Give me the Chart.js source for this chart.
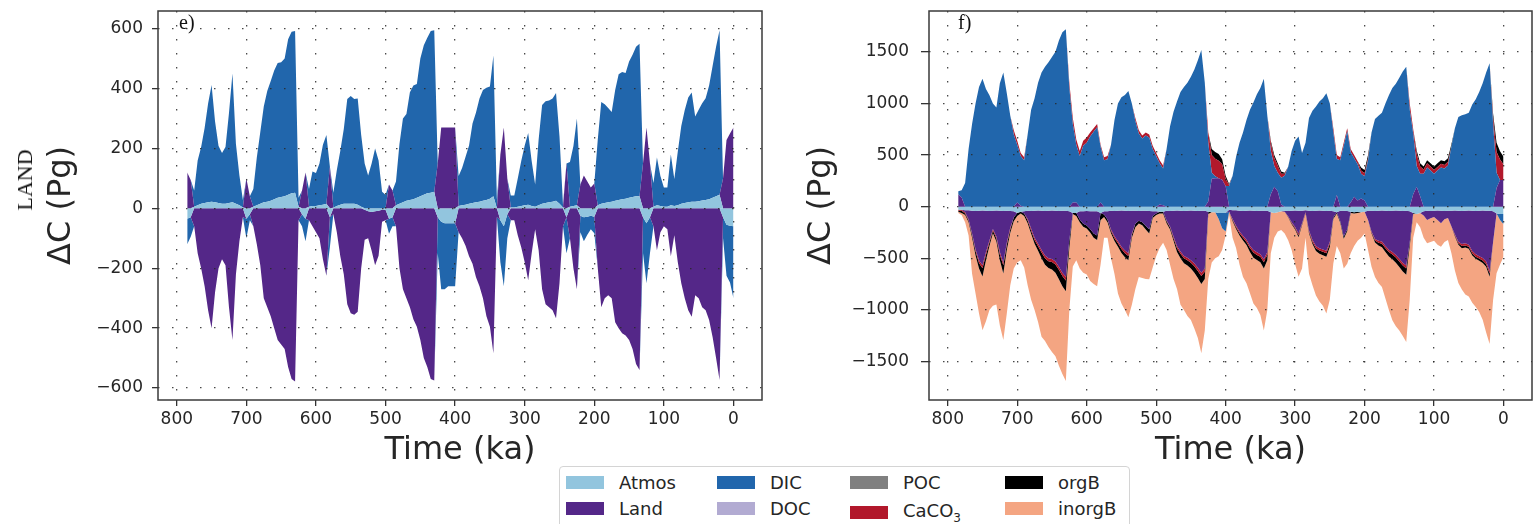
<!DOCTYPE html>
<html>
<head>
<meta charset="utf-8">
<script src="https://cdn.jsdelivr.net/npm/chart.js@4.4.1/dist/chart.umd.min.js"></script>
<style>
  body { margin: 0; background: #fff; }
  #page { position: relative; width: 1535px; height: 524px; overflow: hidden; background: #fff; font-family: 'DejaVu Sans', sans-serif; }
  canvas { position: absolute; top: 0; }
  .tag { position: absolute; top: 12px; font: 20px 'Liberation Serif', 'Times New Roman', serif; line-height: 20px; color: #111; }
  #land { position: absolute; left: 25px; top: 180px; transform: translate(-50%, -50%) rotate(-90deg); font: 22px 'Liberation Serif', 'Times New Roman', serif; color: #111; white-space: nowrap; }
  #legend { position: absolute; left: 559px; top: 466px; width: 571px; height: 80px; border: 1px solid #d4d4d4; border-radius: 4px; background: #fff; box-sizing: border-box; }
  .item { position: absolute; display: flex; align-items: center; height: 20px; font-size: 18px; color: #262626; white-space: nowrap; }
  .swatch { width: 38px; height: 13px; margin-right: 15px; flex: none; }
  .item sub { font-size: 12px; }
</style>
</head>
<body>
<div id="page">
  <canvas id="panelE" width="770" height="470" style="left:0;width:770px;height:470px"></canvas>
  <canvas id="panelF" width="765" height="470" style="left:770px;width:765px;height:470px"></canvas>
  <div class="tag" style="left:179px">e)</div>
  <div class="tag" style="left:958px">f)</div>
  <div id="land">LAND</div>
  <div id="legend"></div>
</div>
<script>
// time axis, ka before present (5 ka steps)
const TIME = [
  785, 780, 775, 770, 765, 760, 755, 750, 745, 740,
  735, 730, 725, 720, 715, 710, 705, 700, 695, 690,
  685, 680, 675, 670, 665, 660, 655, 650, 645, 640,
  635, 630, 625, 620, 615, 610, 605, 600, 595, 590,
  585, 580, 575, 570, 565, 560, 555, 550, 545, 540,
  535, 530, 525, 520, 515, 510, 505, 500, 495, 490,
  485, 480, 475, 470, 465, 460, 455, 450, 445, 440,
  435, 430, 425, 420, 415, 410, 405, 400, 395, 390,
  385, 380, 375, 370, 365, 360, 355, 350, 345, 340,
  335, 330, 325, 320, 315, 310, 305, 300, 295, 290,
  285, 280, 275, 270, 265, 260, 255, 250, 245, 240,
  235, 230, 225, 220, 215, 210, 205, 200, 195, 190,
  185, 180, 175, 170, 165, 160, 155, 150, 145, 140,
  135, 130, 125, 120, 115, 110, 105, 100, 95, 90,
  85, 80, 75, 70, 65, 60, 55, 50, 45, 40,
  35, 30, 25, 20, 15, 10, 5, 0
];

// panel e: LAND run, carbon anomaly per reservoir (Pg C)
const E_ATMOS = [
  -35, -30, 5, 10, 15, 18, 20, 22, 20, 18,
  15, 15, 18, 20, 15, 10, 3, -35, -20, 5,
  10, 15, 20, 22, 25, 30, 35, 38, 40, 45,
  50, 52, 5, -20, -35, 5, 8, 8, 10, 12,
  15, -30, 2, 8, 12, 15, 15, 15, 15, 12,
  5, -5, -10, -12, -10, -8, -5, -5, -35, -30,
  10, 15, 20, 25, 28, 30, 35, 40, 45, 50,
  52, 55, -30, -45, -50, -50, -50, -50, 8, 10,
  12, 15, 18, 20, 22, 25, 28, 32, 40, 0,
  -40, -60, -20, 3, 3, 5, 8, 10, 12, 8,
  5, 10, 15, 18, 20, 22, 25, 15, 3, -30,
  5, 8, 10, -25, -30, -28, -25, -28, 10, 15,
  18, 20, 22, 25, 28, 30, 32, 35, 38, 40,
  40, -30, -50, -30, 5, 10, 8, 5, 5, 10,
  8, 10, 15, 18, 20, 22, 22, 24, 26, 28,
  30, 35, 40, 45, -30, -55, -58, -60
];
const E_LAND = [
  120, 95, -60, -150, -200, -260, -340, -400, -280, -200,
  -170, -190, -330, -440, -220, -110, -30, 100, 40, -60,
  -120, -190, -300, -330, -360, -400, -440, -455, -470, -530,
  -570, -578, -40, 60, 120, -40, -60, -80, -100, -170,
  -225, 140, -20, -80, -160, -220, -320, -350, -355, -345,
  -200, -100, -90, -130, -180, -150, -40, -35, 80, 60,
  -60, -200, -270, -300, -330, -370, -395, -440, -500, -530,
  -570, -575, 150, 270, 270, 270, 270, 270, -80, -100,
  -125, -160, -185, -230, -260, -300, -360, -395, -484, -30,
  180, 270, 100, -40, -40, -90, -130, -180, -240, -150,
  -70, -140, -270, -320, -330, -340, -367, -250, -60, 150,
  -100, -200, -270, 80, 110, 90, 70, 83, -200, -330,
  -300, -290, -300, -380, -400, -417, -425, -440, -470, -520,
  -540, 150, 270, 150, -60, -140, -80, -60, -70, -160,
  -90, -180, -250, -300, -340, -362, -290, -300, -330, -340,
  -373, -430, -500, -573, 100, 228, 250, 270
];
const E_DIC = [
  -85, -65, 55, 150, 190, 250, 330, 390, 270, 190,
  170, 190, 300, 430, 200, 100, 25, -65, -20, 60,
  160, 240, 320, 370, 400, 430, 450, 450, 460, 520,
  540, 540, 30, -40, -75, 60, 115, 110, 140, 200,
  230, -100, 50, 120, 180, 250, 350, 360, 350, 355,
  240, 150, 110, 150, 200, 160, 55, 45, -50, -30,
  80, 200, 280, 290, 360, 380, 380, 460, 500, 520,
  540, 540, -120, -225, -220, -210, -210, -210, 100, 125,
  160, 195, 265, 300, 345, 370, 375, 375, 470, 30,
  -140, -200, -80, 40, 40, 95, 150, 200, 240, 150,
  75, 220, 330, 340, 340, 345, 360, 225, 10, -120,
  150, 200, 290, -55, -80, -60, -45, -55, 220, 340,
  330, 315, 300, 370, 420, 425, 420, 455, 475, 500,
  510, -120, -200, -120, 80, 160, 100, 65, 65, 170,
  90, 180, 260, 310, 350, 365, 285, 305, 325, 340,
  380, 440, 500, 550, -70, -170, -190, -240
];

// panel f: full run with sediments and weathering (Pg C)
const F_ATMOS = [
  -30, -30, -35, -35, -40, -42, -40, -38, -40, -42,
  -40, -38, -40, -42, -40, -42, -45, -60, -50, -45,
  -40, -42, -40, -38, -40, -42, -40, -38, -40, -42,
  -40, -40, -45, -60, -60, -45, -45, -42, -45, -45,
  -45, -60, -45, -45, -40, -42, -40, -38, -40, -42,
  -40, -40, -42, -40, -40, -42, -45, -45, -50, -50,
  -40, -42, -40, -38, -40, -42, -40, -38, -40, -42,
  -40, -40, -50, -55, -55, -60, -60, -60, -30, -35,
  -35, -40, -42, -40, -38, -40, -42, -40, -40, -40,
  -55, -60, -55, -45, -40, -42, -40, -38, -40, -40,
  -35, -40, -42, -40, -38, -40, -42, -40, -45, -55,
  -40, -40, -42, -50, -55, -50, -55, -50, -40, -40,
  -42, -40, -38, -40, -42, -40, -38, -40, -42, -40,
  -45, -60, -70, -60, -45, -40, -42, -40, -38, -40,
  -42, -40, -40, -38, -40, -42, -40, -38, -40, -42,
  -40, -38, -40, -40, -45, -65, -70, -70
];
const F_LAND = [
  120, 90, -20, -90, -220, -370, -480, -530, -400, -285,
  -175, -250, -400, -500, -310, -160, -60, 40, 10, -20,
  -80, -170, -260, -320, -380, -430, -460, -470, -490, -540,
  -600, -640, -280, 40, 40, -80, -120, -140, -170, -215,
  -235, 40, -30, -80, -180, -245, -295, -350, -385, -410,
  -220, -125, -95, -110, -145, -180, -45, -20, 20, 15,
  -95, -150, -250, -345, -395, -435, -455, -480, -510, -550,
  -600, -560, 50, 270, 275, 275, 260, 200, -20, -85,
  -150, -200, -240, -280, -340, -380, -400, -420, -470, -400,
  120, 194, 150, 20, -10, -50, -110, -160, -220, -120,
  -20, -190, -280, -340, -365, -375, -385, -300, -60, 113,
  -100, -250, -180, 40, 97, 60, 80, 60, -90, -200,
  -270, -290, -300, -340, -375, -400, -430, -465, -500, -530,
  -300, 120, 194, 100, -40, -90, -70, -60, -90, -120,
  -80, -70, -150, -230, -300, -320, -315, -330, -390, -420,
  -440, -460, -490, -580, -300, 180, 258, 258
];
const F_DIC = [
  30, 70, 230, 560, 800, 1000, 1160, 1240, 1140, 1080,
  1000, 960, 1195, 1300, 1100, 880, 700, 560, 480, 450,
  700, 940, 1050, 1200, 1300, 1357, 1400, 1450, 1500, 1610,
  1690, 1718, 1150, 760, 560, 490, 590, 620, 680, 725,
  770, 540, 450, 460, 600, 840, 1000, 1060, 1082, 1120,
  1000, 830, 710, 660, 690, 670, 560, 490, 400, 355,
  560, 780, 920, 1020, 1110, 1160, 1200, 1260, 1330, 1420,
  1518, 1200, 570, 60, 20, -60, -150, -180, 200, 300,
  485, 620, 720, 840, 940, 1010, 1090, 1150, 1240, 880,
  420, 200, 180, 260, 300, 388, 540, 640, 680, 520,
  620, 860, 930, 970, 1020, 1050, 1098, 1000, 720, 350,
  450, 590, 730, 490, 373, 350, 240, 235, 450, 720,
  850, 880, 910, 1000, 1080, 1150, 1190, 1250, 1310, 1357,
  940, 590, 200, 220, 320, 380, 350, 320, 350, 380,
  370, 400, 580, 760, 870, 885, 895, 910, 990, 1040,
  1110, 1195, 1300, 1389, 800, 150, -60, -100
];
const F_CACO3 = [
  -10, -10, -10, -10, -15, -20, -25, -28, -25, -20,
  -15, -20, -25, -26, -20, -20, 40, 40, 30, 30,
  -15, -20, -22, -25, -25, -28, -28, -28, -30, -30,
  -32, -35, 50, 60, 50, 50, 50, 50, 40, 35,
  30, 20, 30, 30, -15, -18, -20, -22, -25, -25,
  -15, 30, 30, 30, 30, 30, 30, 30, 30, 30,
  -5, -10, -15, -20, -22, -22, -24, -25, -28, -30,
  -32, -30, 100, 170, 170, 170, 150, 70, 10, -10,
  -15, -18, -20, -22, -22, -25, -25, -25, -28, -25,
  80, 80, 70, 40, 20, -5, -10, -12, -20, -10,
  -5, -15, -20, -22, -22, -22, -24, -20, 40, 37,
  30, 30, 30, 30, 30, 30, 30, 30, 20, -10,
  -15, -20, -20, -22, -22, -24, -25, -26, -28, -30,
  60, 40, 120, 70, 40, 40, 40, 35, 35, 35,
  35, 35, -5, -10, -15, -20, -20, -20, -22, -22,
  -23, -24, -25, -28, 60, 200, 200, 150
];
const F_ORGB = [
  -10, -20, -15, -15, -25, -40, -55, -80, -55, -35,
  -28, -30, -55, -80, -50, -30, -35, -30, -15, -25,
  -25, -30, -38, -45, -55, -62, -67, -72, -80, -90,
  -98, -105, -75, -10, -30, -25, -29, -30, -35, -40,
  -43, -70, -25, -25, -23, -27, -33, -38, -40, -42,
  -25, -35, -26, -30, -35, -38, -20, -15, -15, -15,
  -20, -20, -25, -35, -43, -48, -51, -55, -62, -70,
  -78, -70, -20, 60, 65, 65, 50, 30, 10, -10,
  -15, -20, -25, -30, -40, -50, -50, -53, -62, -55,
  20, 26, 20, 20, 10, -5, -10, -12, -15, -10,
  -5, -15, -20, -28, -30, -33, -35, -30, -15, -10,
  -15, -20, -15, -10, -10, -10, 30, 30, 30, -10,
  -20, -25, -35, -38, -43, -46, -50, -54, -57, -60,
  -40, -10, 30, 30, 30, 30, 30, 35, 35, 35,
  35, 35, 25, -10, -15, -20, -20, -20, -20, -20,
  -22, -24, -26, -30, 40, 90, 80, 77
];
const F_INORGB = [
  -10, -20, -70, -130, -350, -370, -434, -522, -590, -620,
  -702, -610, -630, -644, -614, -510, -460, -450, -455, -500,
  -600, -640, -640, -690, -760, -740, -765, -800, -810, -840,
  -850, -870, -600, -510, -430, -450, -446, -445, -470, -450,
  -447, -430, -200, -150, -242, -320, -452, -490, -510, -553,
  -650, -600, -519, -510, -480, -442, -480, -400, -335, -285,
  -260, -340, -370, -360, -450, -455, -490, -500, -540, -580,
  -670, -500, -630, -485, -445, -360, -210, -40, -30, -160,
  -185, -282, -355, -371, -398, -442, -465, -512, -600, -480,
  -395, -240, -185, -181, -210, -223, -250, -336, -383, -420,
  -235, -390, -400, -430, -463, -490, -550, -510, -430, -315,
  -295, -290, -315, -390, -315, -270, -245, -210, -290, -321,
  -335, -365, -385, -450, -520, -590, -615, -615, -625, -650,
  -515, -230, -80, -140, -215, -225, -230, -230, -240, -228,
  -220, -213, -255, -330, -370, -400, -455, -462, -458, -467,
  -495, -550, -639, -652, -559, -581, -430, -314
];

const X_TICKS = [800, 700, 600, 500, 400, 300, 200, 100, 0];
const E_YTICKS = [-600, -400, -200, 0, 200, 400, 600];
const F_YTICKS = [-1500, -1000, -500, 0, 500, 1000, 1500];

const SERIES_COLORS = {
  Atmos: '#92c5de', Land: '#542788', DIC: '#2166ac', DOC: '#b2abd2',
  POC: '#808080', CaCO3: '#b2182b', orgB: '#000000', inorgB: '#f4a582'
};
const LEGEND_ORDER = ['Atmos', 'Land', 'DIC', 'DOC', 'POC', 'CaCO3', 'orgB', 'inorgB'];

const FONT = 'DejaVu Sans';
const INK = '#262626';
Chart.defaults.font.family = FONT;

const signed = v => (v < 0 ? '\u2212' + Math.abs(v) : String(v));

// positive and negative parts stack separately, like a diverging stackplot
function stackedSets(layers) {
  const sets = [];
  for (const side of ['pos', 'neg']) {
    layers.forEach(([name, values], i) => {
      sets.push({
        label: name + ' ' + side,
        stack: side,
        data: values.map((v, k) => ({ x: TIME[k], y: side === 'pos' ? Math.max(v, 0) : Math.min(v, 0) })),
        backgroundColor: SERIES_COLORS[name],
        borderColor: 'rgba(0,0,0,0)',
        borderWidth: 0,
        pointRadius: 0,
        tension: 0,
        fill: i === 0 ? 'origin' : '-1'
      });
    });
  }
  return sets;
}

// box around the plotting area
const frame = {
  id: 'frame',
  afterDraw(chart) {
    const { ctx, chartArea: a } = chart;
    ctx.save();
    ctx.strokeStyle = '#3a3a3a';
    ctx.lineWidth = 1.5;
    ctx.strokeRect(a.left, a.top, a.right - a.left, a.bottom - a.top);
    ctx.restore();
  }
};

function gridOpts(tickLength) {
  return {
    color: 'rgba(40,40,40,0.85)', lineWidth: 1.3, borderDash: [1.5, 12.5], z: 1,
    tickLength, tickColor: '#333', tickWidth: 1.3, tickBorderDash: []
  };
}
const borderOpts = { display: false, dash: [1.5, 12.5] };

// fixed axis boxes so both plot frames land at the same place
function fixBox(size, key) {
  return ax => {
    ax[key] = size;
    ax.paddingTop = 0; ax.paddingBottom = 0;
    ax.paddingLeft = 0; ax.paddingRight = 0;
  };
}

function makePanel(id, layers, cfg) {
  return new Chart(document.getElementById(id), {
    type: 'line',
    data: { datasets: stackedSets(layers) },
    options: {
      animation: false,
      responsive: false,
      events: [],
      layout: { padding: { top: 11, right: cfg.padRight, left: 0, bottom: 0 } },
      plugins: { legend: { display: false }, tooltip: { enabled: false } },
      scales: {
        x: {
          type: 'linear', reverse: true, min: -41, max: 827,
          afterBuildTicks: ax => { ax.ticks = X_TICKS.map(value => ({ value })); },
          afterFit: fixBox(70, 'height'),
          grid: gridOpts(6),
          border: borderOpts,
          ticks: { color: INK, font: { size: 17 }, padding: 3.5, maxRotation: 0, autoSkip: false, callback: signed },
          title: { display: true, text: 'Time (ka)', color: INK, font: { size: 32 }, padding: { top: 0, bottom: 0 } }
        },
        y: {
          stacked: true, min: cfg.yMin, max: cfg.yMax,
          afterBuildTicks: ax => { ax.ticks = cfg.yTicks.map(value => ({ value })); },
          afterFit: fixBox(cfg.axisWidth, 'width'),
          grid: gridOpts(cfg.tickLen),
          border: borderOpts,
          ticks: { color: INK, font: { size: 17 }, padding: cfg.tickPad, autoSkip: false, callback: signed },
          title: { display: true, text: '\u0394C (Pg)', color: INK, font: { size: 32 }, padding: { top: cfg.titlePad, bottom: 0 } }
        }
      }
    },
    plugins: [frame]
  });
}

makePanel('panelE', [
  ['Atmos', E_ATMOS], ['Land', E_LAND], ['DIC', E_DIC]
], { yMin: -640, yMax: 659, yTicks: E_YTICKS, axisWidth: 158, tickLen: 6, tickPad: 9, titlePad: 42, padRight: 8 });

makePanel('panelF', [
  ['Atmos', F_ATMOS], ['Land', F_LAND], ['DIC', F_DIC],
  ['CaCO3', F_CACO3], ['orgB', F_ORGB], ['inorgB', F_INORGB]
], { yMin: -1873, yMax: 1896, yTicks: F_YTICKS, axisWidth: 159, tickLen: 8, tickPad: 12, titlePad: 32, padRight: 3 });

// shared legend, two rows filled column by column
const LEGEND_COL_X = [6, 157, 290, 445];
const LEGEND_ROW_Y = [16, 42];
const legend = document.getElementById('legend');
LEGEND_ORDER.forEach((name, i) => {
  const col = Math.floor(i / 2), row = i % 2;
  const item = document.createElement('div');
  item.className = 'item';
  const dy = name === 'CaCO3' ? 4 : 0;
  item.style.left = LEGEND_COL_X[col] + 'px';
  item.style.top = (LEGEND_ROW_Y[row] - 11 + dy) + 'px';
  const sw = document.createElement('span');
  sw.className = 'swatch';
  sw.style.background = SERIES_COLORS[name];
  const label = document.createElement('span');
  label.innerHTML = name === 'CaCO3' ? 'CaCO<sub>3</sub>' : name;
  item.appendChild(sw);
  item.appendChild(label);
  legend.appendChild(item);
});
</script>
</body>
</html>
